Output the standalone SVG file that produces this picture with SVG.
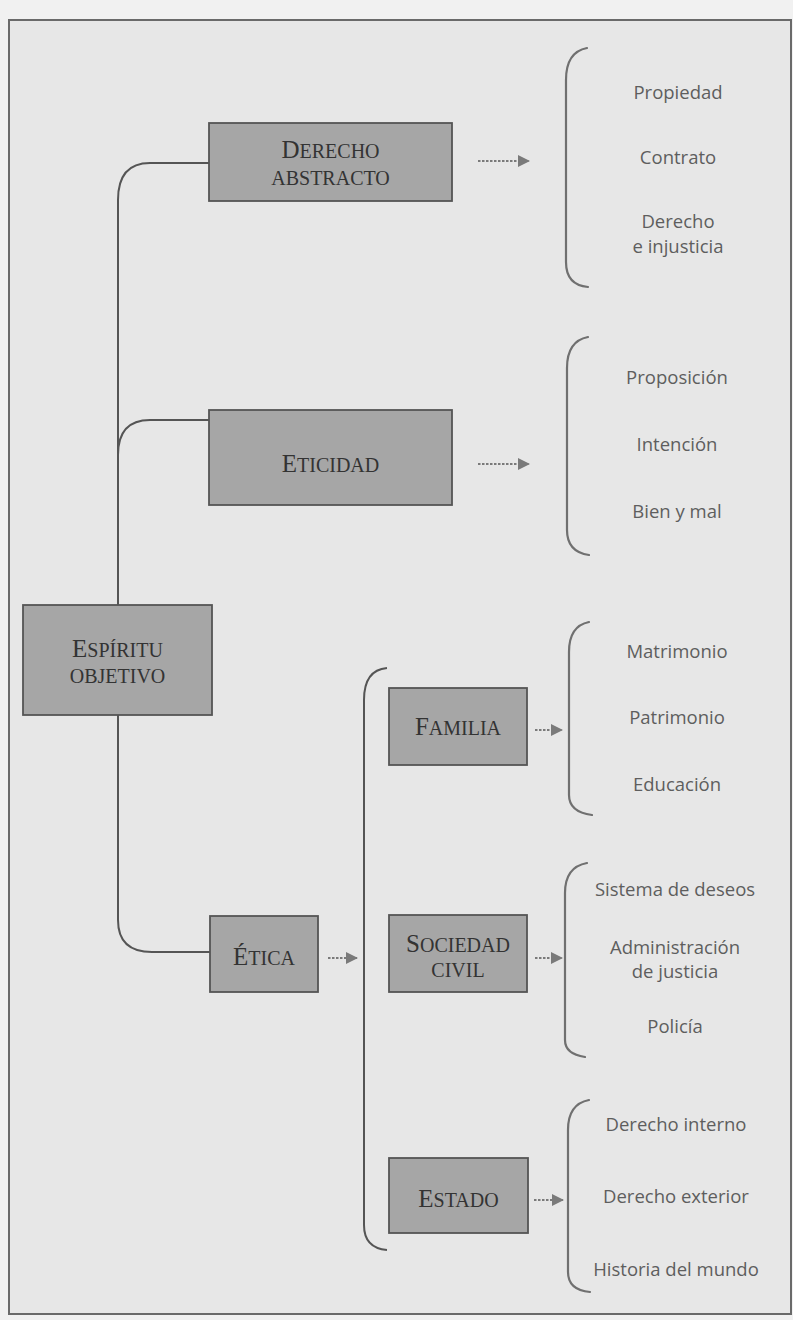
<svg xmlns="http://www.w3.org/2000/svg" width="793" height="1320" viewBox="0 0 793 1320">
<defs>
<marker id="ah" viewBox="0 0 12 12" refX="11" refY="6" markerWidth="12" markerHeight="12" markerUnits="userSpaceOnUse" orient="auto">
<path d="M0,0 L12,6 L0,12 Z" fill="#7a7a7a"/>
</marker>
<style>
.box{fill:#a6a6a6;stroke:#555;stroke-width:1.8}
.bt{font-family:"Liberation Serif",serif;fill:#333;text-anchor:middle;font-size:20px}
.cap{font-size:25px}
.lt{font-family:"Open Sans","Noto Sans",sans-serif;font-size:18.5px;fill:#5e5e5e;text-anchor:middle}
.con{fill:none;stroke:#555;stroke-width:2}
.br{fill:none;stroke:#707070;stroke-width:2.2;stroke-linecap:round}
.dot{fill:none;stroke:#7a7a7a;stroke-width:2;stroke-dasharray:2.5 1.5}
</style>
</defs>
<rect x="0" y="0" width="793" height="1320" fill="#f1f1f1"/>
<rect x="9" y="20" width="782" height="1294" fill="#e7e7e7" stroke="#6a6a6a" stroke-width="2"/>

<g id="connectors">
<path class="con" d="M209,163 L150,163 Q118,163 118,200 L118,605"/>
<path class="con" d="M118,455 Q118,420 150,420 L209,420"/>
<path class="con" d="M118,715 L118,920 Q118,952 152,952 L210,952"/>
<path class="con" d="M387,668 Q364,670 364,700 L364,1225 Q364,1248 387,1250"/>
<path class="dot" d="M478,161 L529,161" marker-end="url(#ah)"/>
<path class="dot" d="M478,464 L529,464" marker-end="url(#ah)"/>
<path class="dot" d="M535,730 L562,730" marker-end="url(#ah)"/>
<path class="dot" d="M328,958 L357,958" marker-end="url(#ah)"/>
<path class="dot" d="M535,958 L562,958" marker-end="url(#ah)"/>
<path class="dot" d="M534,1200 L563,1200" marker-end="url(#ah)"/>
</g>

<g id="espiritu-objetivo">
<rect class="box" x="23" y="605" width="189" height="110"/>
<text class="bt" x="117.5" y="657"><tspan class="cap">E</tspan>SPÍRITU</text>
<text class="bt" x="117.5" y="683">OBJETIVO</text>
</g>

<g id="derecho-abstracto">
<rect class="box" x="209" y="123" width="243" height="78"/>
<text class="bt" x="330.5" y="158"><tspan class="cap">D</tspan>ERECHO</text>
<text class="bt" x="330.5" y="185">ABSTRACTO</text>
</g>

<g id="eticidad">
<rect class="box" x="209" y="410" width="243" height="95"/>
<text class="bt" x="330.5" y="472"><tspan class="cap">E</tspan>TICIDAD</text>
</g>

<g id="etica">
<rect class="box" x="210" y="916" width="108" height="76"/>
<text class="bt" x="264" y="965"><tspan class="cap">É</tspan>TICA</text>
</g>

<g id="familia">
<rect class="box" x="389" y="688" width="138" height="77"/>
<text class="bt" x="458" y="735"><tspan class="cap">F</tspan>AMILIA</text>
</g>

<g id="sociedad-civil">
<rect class="box" x="389" y="915" width="138" height="77"/>
<text class="bt" x="458" y="952"><tspan class="cap">S</tspan>OCIEDAD</text>
<text class="bt" x="458" y="977">CIVIL</text>
</g>

<g id="estado">
<rect class="box" x="389" y="1158" width="139" height="75"/>
<text class="bt" x="458.5" y="1207"><tspan class="cap">E</tspan>STADO</text>
</g>

<g id="list-derecho">
<path class="br" d="M587,48 Q566,52 566,80 L566,262 Q566,285 588,287"/>
<text class="lt" x="678" y="99">Propiedad</text>
<text class="lt" x="678" y="164">Contrato</text>
<text class="lt" x="678" y="228">Derecho</text>
<text class="lt" x="678" y="253">e injusticia</text>
</g>

<g id="list-eticidad">
<path class="br" d="M588,337 Q567,341 567,368 L567,530 Q567,552 589,555"/>
<text class="lt" x="677" y="384">Proposición</text>
<text class="lt" x="677" y="451">Intención</text>
<text class="lt" x="677" y="518">Bien y mal</text>
</g>

<g id="list-familia">
<path class="br" d="M589,622 Q569,626 569,652 L569,795 Q569,812 592,815"/>
<text class="lt" x="677" y="658">Matrimonio</text>
<text class="lt" x="677" y="724">Patrimonio</text>
<text class="lt" x="677" y="791">Educación</text>
</g>

<g id="list-sociedad">
<path class="br" d="M587,863 Q565,867 565,893 L565,1040 Q565,1054 585,1057"/>
<text class="lt" x="675" y="896">Sistema de deseos</text>
<text class="lt" x="675" y="954">Administración</text>
<text class="lt" x="675" y="978">de justicia</text>
<text class="lt" x="675" y="1033">Policía</text>
</g>

<g id="list-estado">
<path class="br" d="M589,1100 Q568,1104 568,1130 L568,1272 Q568,1290 590,1292"/>
<text class="lt" x="676" y="1131">Derecho interno</text>
<text class="lt" x="676" y="1203">Derecho exterior</text>
<text class="lt" x="676" y="1276">Historia del mundo</text>
</g>
</svg>
